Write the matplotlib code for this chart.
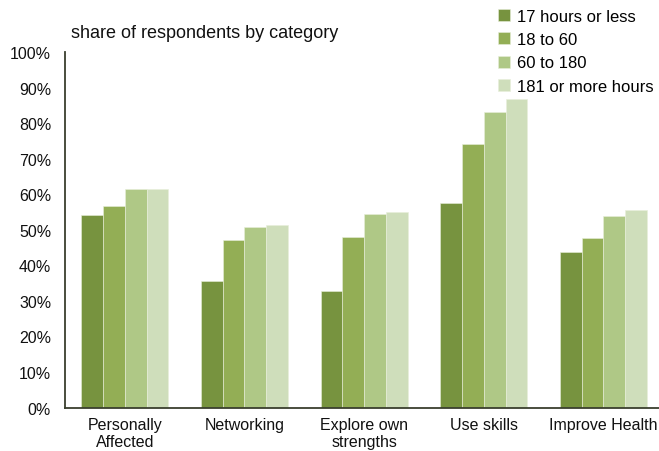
import matplotlib as mpl
mpl.use('Agg')
import matplotlib.pyplot as plt
import numpy as np

plt.rcParams['font.family'] = ['Liberation Sans', 'DejaVu Sans']

categories = ['Personally\nAffected', 'Networking', 'Explore own\nstrengths', 'Use skills', 'Improve Health']
series_names = ['17 hours or less', '18 to 60', '60 to 180', '181 or more hours']
series_values = [
    [54.1, 35.6, 32.8, 57.5, 43.9],   # 17 hours or less
    [56.8, 47.1, 47.9, 74.2, 47.7],   # 18 to 60
    [61.6, 50.8, 54.5, 83.2, 54.0],   # 60 to 180
    [61.6, 51.5, 55.1, 86.8, 55.6],   # 181 or more hours
]
colors = ['#77933f', '#93ae55', '#afc886', '#cfdebb']
yticks = np.arange(0, 101, 10)

fig = plt.figure(figsize=(6.59, 4.52), dpi=100)
ax = fig.add_axes([0.0986, 0.0962, 0.9014, 0.786])

x = np.arange(len(categories))
bar_w = 0.182
for i, (name, vals) in enumerate(zip(series_names, series_values)):
    offs = (i - 1.5) * bar_w
    ax.bar(x + offs, vals, width=bar_w, color=colors[i], label=name,
           edgecolor='#e8eedb', linewidth=0.4, zorder=2)

ax.set_ylim(0, 100)
ax.set_xlim(-0.5, 4.464)
ax.set_yticks(yticks)
ax.set_yticklabels([f'{v}%' for v in yticks], fontsize=11.5, color='#111111')
ax.set_xticks(x)
ax.set_xticklabels(categories, fontsize=11.5, color='#111111', linespacing=1.15)
ax.tick_params(axis='both', length=0)
ax.tick_params(axis='y', pad=10)
ax.tick_params(axis='x', pad=7)

for side in ['top', 'right']:
    ax.spines[side].set_visible(False)
for side in ['left', 'bottom']:
    ax.spines[side].set_color('#3a3f2e')
    ax.spines[side].set_linewidth(1.3)

fig.text(0.108, 0.925, 'share of respondents by category', fontsize=13,
         color='#111111', va='center', ha='left')

handles, labels = ax.get_legend_handles_labels()
fig.legend(handles, labels, loc='upper left', bbox_to_anchor=(0.745, 0.993),
           frameon=False, fontsize=12, handlelength=0.75, handleheight=0.75,
           handletextpad=0.4, labelspacing=0.5, borderaxespad=0)

fig.savefig('out.png', dpi=100)
